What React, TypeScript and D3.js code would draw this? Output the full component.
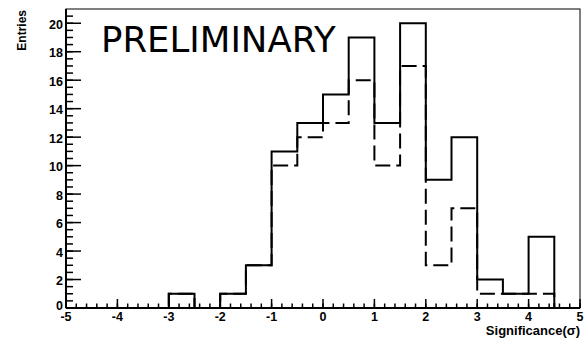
import React from 'react';
import * as d3 from 'd3';

const binEdges = [-5, -4.5, -4, -3.5, -3, -2.5, -2, -1.5, -1, -0.5, 0, 0.5, 1, 1.5, 2, 2.5, 3, 3.5, 4, 4.5, 5];
const solidCounts = [0, 0, 0, 0, 1, 0, 1, 3, 11, 13, 15, 19, 13, 20, 9, 12, 2, 1, 5, 0];
const dashedCounts = [0, 0, 0, 0, 1, 0, 1, 3, 10, 12, 13, 16, 10, 17, 3, 7, 1, 1, 1, 0];
const xTicks = [-5, -4, -3, -2, -1, 0, 1, 2, 3, 4, 5];
const yTicks = [0, 2, 4, 6, 8, 10, 12, 14, 16, 18, 20];

const W = 587;
const H = 344;
const left = 66;
const right = 580;
const top = 9;
const bottom = 308;
const font = '"Liberation Sans", Arial, sans-serif';

export default function App() {
  const x = d3.scaleLinear().domain([-5, 5]).range([left, right]);
  const y = d3.scaleLinear().domain([0, 21]).range([bottom, top]);

  // outline of a histogram: flat top across each bin
  const stepPoints = (counts: number[]) => {
    const pts: [number, number][] = [];
    counts.forEach((c, i) => {
      pts.push([binEdges[i], c]);
      pts.push([binEdges[i + 1], c]);
    });
    return pts;
  };
  const line = d3
    .line<[number, number]>()
    .x((d) => x(d[0]))
    .y((d) => y(d[1]));

  const xMinor = d3.range(-5, 5.001, 0.2);
  const yMinor = d3.range(0, 20.51, 0.5);

  return (
    <svg
      width={W}
      height={H}
      style={{ position: 'absolute', left: 0, top: 0, background: '#fff' }}
    >
      <rect x={left} y={top} width={right - left} height={bottom - top} fill="none" stroke="#000" strokeWidth={1} />

      <path d={line(stepPoints(dashedCounts)) ?? ''} fill="none" stroke="#000" strokeWidth={2} strokeDasharray="15 6" />
      <path d={line(stepPoints(solidCounts)) ?? ''} fill="none" stroke="#000" strokeWidth={2} />

      <line x1={left} x2={left} y1={top} y2={bottom} stroke="#000" strokeWidth={2} />
      <line x1={left} x2={right} y1={bottom} y2={bottom} stroke="#000" strokeWidth={2} />

      {xMinor.map((v, i) => (
        <line key={'xm' + i} x1={x(v)} x2={x(v)} y1={bottom} y2={bottom - 4.5} stroke="#000" strokeWidth={1.5} />
      ))}
      {xTicks.map((v) => (
        <g key={'xt' + v}>
          <line x1={x(v)} x2={x(v)} y1={bottom} y2={bottom - 9} stroke="#000" strokeWidth={1.5} />
          <text x={x(v)} y={321} textAnchor="middle" fontFamily={font} fontWeight="bold" fontSize={12.5}>
            {v}
          </text>
        </g>
      ))}

      {yMinor.map((v, i) => (
        <line key={'ym' + i} x1={left} x2={left + 7} y1={y(v)} y2={y(v)} stroke="#000" strokeWidth={1.5} />
      ))}
      {yTicks.map((v) => (
        <g key={'yt' + v}>
          <line x1={left} x2={left + 15} y1={y(v)} y2={y(v)} stroke="#000" strokeWidth={1.5} />
          <text
            x={63}
            y={v === 0 ? y(v) + 2 : y(v) + 5.5}
            textAnchor="end"
            fontFamily={font}
            fontWeight="bold"
            fontSize={12.5}
          >
            {v}
          </text>
        </g>
      ))}

      <text
        transform="translate(26,10) rotate(-90)"
        textAnchor="end"
        fontFamily={font}
        fontWeight="bold"
        fontSize={12}
      >
        Entries
      </text>
      <text x={580} y={335} textAnchor="end" fontFamily={font} fontWeight="bold" fontSize={13}>
        Significance(σ)
      </text>
      <text x={101} y={52} fontFamily='"DejaVu Sans", sans-serif' fontSize={35.5}>
        PRELIMINARY
      </text>
    </svg>
  );
}
